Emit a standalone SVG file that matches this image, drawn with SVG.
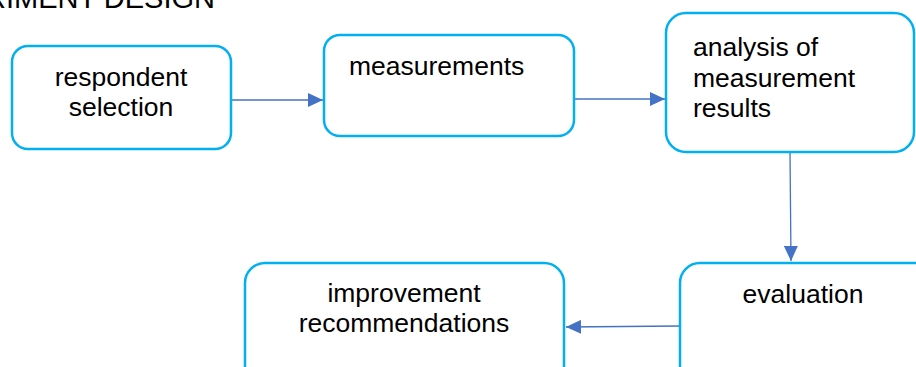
<svg xmlns="http://www.w3.org/2000/svg" width="916" height="367" viewBox="0 0 916 367">
  <style>
    .box { fill: #FFFFFF; stroke: #00B0F0; stroke-width: 2.5; }
    .lbl { font-family: "Liberation Sans", Arial, sans-serif; font-size: 26.5px; fill: #000000; }
    .mid { text-anchor: middle; }
    .conn { stroke: #4472C4; stroke-width: 1.3; fill: none; marker-end: url(#arrow); }
  </style>
  <defs>
    <marker id="arrow" markerWidth="16" markerHeight="14" refX="15" refY="7" orient="auto" markerUnits="userSpaceOnUse">
      <path d="M0,0 L15,7 L0,14 Z" fill="#4472C4"/>
    </marker>
  </defs>
  <rect width="916" height="367" fill="#FFFFFF"/>

  <text class="lbl" x="215" y="8" style="font-size:29px" text-anchor="end">RIMENT DESIGN</text>

  <g id="connectors">
    <line class="conn" x1="231" y1="100" x2="323" y2="100"/>
    <line class="conn" x1="574" y1="99" x2="665" y2="99"/>
    <line class="conn" x1="790" y1="152" x2="791" y2="261"/>
    <line class="conn" x1="680" y1="326" x2="566" y2="327"/>
  </g>

  <g id="respondent-selection">
    <rect class="box" x="12" y="46" width="219" height="103" rx="16"/>
    <text class="lbl mid" x="121" y="86">respondent</text>
    <text class="lbl mid" x="121" y="116">selection</text>
  </g>

  <g id="measurements">
    <rect class="box" x="324" y="35" width="250" height="101" rx="16"/>
    <text class="lbl" x="349" y="75">measurements</text>
  </g>

  <g id="analysis">
    <rect class="box" x="666" y="13" width="248" height="139" rx="20"/>
    <text class="lbl" x="693" y="56">analysis of</text>
    <text class="lbl" x="693" y="87">measurement</text>
    <text class="lbl" x="693" y="117">results</text>
  </g>

  <g id="evaluation">
    <rect class="box" x="680" y="263" width="260" height="130" rx="20"/>
    <text class="lbl mid" x="803" y="303">evaluation</text>
  </g>

  <g id="improvement-recommendations">
    <rect class="box" x="245" y="263" width="319" height="130" rx="20"/>
    <text class="lbl mid" x="404" y="302">improvement</text>
    <text class="lbl mid" x="404" y="332">recommendations</text>
  </g>
</svg>
